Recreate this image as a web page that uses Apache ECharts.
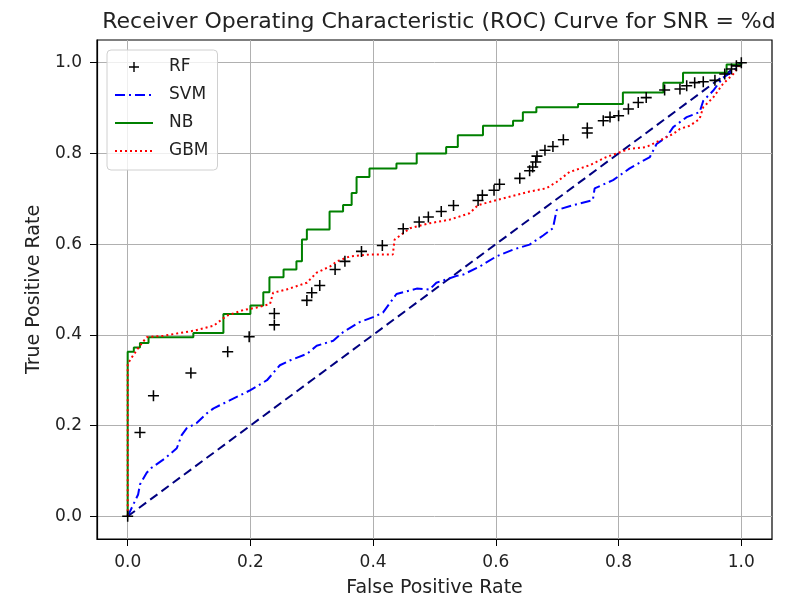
<!DOCTYPE html>
<html>
<head>
<meta charset="utf-8">
<script src="https://cdn.jsdelivr.net/npm/echarts@6/dist/echarts.min.js"></script>
<style>
  html, body { margin: 0; padding: 0; background: #fff; }
  #chart { width: 795px; height: 603px; }
</style>
</head>
<body>
<div id="chart"></div>
<script>
// tick labels
var ticks = [0, 0.2, 0.4, 0.6, 0.8, 1.0];

// RF (markers only)
var rfFpr = [0, 0.02, 0.042, 0.103, 0.163, 0.198, 0.239, 0.239, 0.292, 0.3, 0.313, 0.338, 0.354, 0.381, 0.415,
  0.449, 0.475, 0.49, 0.511, 0.531, 0.571, 0.578, 0.597, 0.606, 0.639, 0.655, 0.66, 0.665, 0.667, 0.68,
  0.693, 0.71, 0.749, 0.749, 0.775, 0.786, 0.8, 0.816, 0.832, 0.845, 0.875, 0.9, 0.911, 0.924, 0.938,
  0.957, 0.973, 0.984, 0.992, 1.0];
var rfTpr = [0, 0.185, 0.266, 0.316, 0.363, 0.396, 0.447, 0.422, 0.476, 0.493, 0.509, 0.544, 0.562, 0.584, 0.597,
  0.634, 0.649, 0.66, 0.672, 0.685, 0.696, 0.708, 0.719, 0.732, 0.745, 0.762, 0.77, 0.781, 0.794, 0.807,
  0.815, 0.83, 0.856, 0.845, 0.872, 0.88, 0.883, 0.898, 0.912, 0.923, 0.94, 0.942, 0.949, 0.956, 0.958,
  0.961, 0.975, 0.986, 0.993, 1.0];

// SVM
var svmFpr = [0, 0.017, 0.02, 0.031, 0.039, 0.061, 0.08, 0.088, 0.096, 0.112, 0.129, 0.14, 0.167, 0.2, 0.227,
  0.248, 0.265, 0.292, 0.308, 0.335, 0.351, 0.378, 0.4, 0.416, 0.438, 0.471, 0.492, 0.503, 0.519, 0.536,
  0.547, 0.574, 0.601, 0.628, 0.655, 0.677, 0.693, 0.699, 0.726, 0.758, 0.761, 0.791, 0.818, 0.851, 0.862,
  0.878, 0.889, 0.911, 0.932, 0.938, 0.954, 0.97, 0.987, 1.0];
var svmTpr = [0, 0.048, 0.07, 0.096, 0.107, 0.128, 0.15, 0.179, 0.194, 0.205, 0.227, 0.238, 0.256, 0.278, 0.3,
  0.333, 0.344, 0.358, 0.376, 0.387, 0.406, 0.428, 0.439, 0.449, 0.49, 0.502, 0.5, 0.515, 0.522, 0.53,
  0.533, 0.551, 0.573, 0.588, 0.599, 0.619, 0.635, 0.675, 0.686, 0.697, 0.723, 0.741, 0.767, 0.792, 0.821,
  0.836, 0.858, 0.88, 0.891, 0.916, 0.938, 0.967, 0.982, 1.0];

// NB
var nbFpr = [0, 0, 0.01, 0.02, 0.034, 0.107, 0.156, 0.2, 0.221, 0.231, 0.254, 0.275, 0.284, 0.292, 0.329,
  0.351, 0.365, 0.373, 0.394, 0.438, 0.471, 0.519, 0.538, 0.579, 0.628, 0.644, 0.666, 0.734, 0.807, 0.873,
  0.905, 0.976, 1.0];
var nbTpr = [0, 0.363, 0.372, 0.382, 0.395, 0.404, 0.446, 0.465, 0.494, 0.527, 0.544, 0.562, 0.61, 0.632, 0.672,
  0.686, 0.713, 0.748, 0.767, 0.778, 0.8, 0.814, 0.84, 0.861, 0.872, 0.891, 0.902, 0.909, 0.934, 0.956,
  0.978, 0.996, 1.0];

// GBM
var gbmFpr = [0, 0, 0.009, 0.02, 0.031, 0.058, 0.107, 0.14, 0.161, 0.189, 0.21, 0.232, 0.237, 0.259, 0.292,
  0.308, 0.33, 0.341, 0.362, 0.394, 0.432, 0.435, 0.46, 0.492, 0.525, 0.557, 0.571, 0.612, 0.655, 0.682,
  0.699, 0.72, 0.753, 0.78, 0.818, 0.845, 0.862, 0.878, 0.889, 0.9, 0.916, 0.932, 0.938, 0.954, 0.97,
  0.987, 1.0];
var gbmTpr = [0, 0.336, 0.355, 0.376, 0.395, 0.398, 0.409, 0.42, 0.442, 0.455, 0.46, 0.468, 0.493, 0.5, 0.515,
  0.537, 0.551, 0.562, 0.573, 0.577, 0.577, 0.61, 0.635, 0.646, 0.654, 0.668, 0.686, 0.701, 0.716, 0.723,
  0.737, 0.759, 0.774, 0.792, 0.81, 0.814, 0.825, 0.836, 0.843, 0.854, 0.861, 0.876, 0.902, 0.923, 0.953,
  0.975, 1.0];

// chance line
var diagX = [0, 1];
var diagY = [0, 1];

function pairs(xs, ys) {
  return xs.map(function (x, i) { return [x, ys[i]]; });
}

var fontFamily = 'DejaVu Sans';
var plus = 'path://M4.3,0H5.7V4.3H10V5.7H5.7V10H4.3V5.7H0V4.3H4.3Z';

var axisCommon = {
  type: 'value',
  min: -0.05,
  max: 1.05,
  axisLine: { show: true, onZero: false, lineStyle: { color: '#000', width: 1.2 } },
  axisTick: {
    show: true, inside: false, length: 7,
    lineStyle: { color: '#000', width: 1 },
    customValues: ticks
  },
  axisLabel: {
    customValues: ticks,
    fontFamily: fontFamily, fontSize: 17, color: '#222', margin: 15,
    formatter: function (v) { return v.toFixed(1); }
  },
  splitLine: { show: true, lineStyle: { color: '#b0b0b0', width: 1 } },
  nameLocation: 'middle',
  nameTextStyle: { fontFamily: fontFamily, fontSize: 19, color: '#222' }
};

var chart = echarts.init(document.getElementById('chart'), null, { renderer: 'canvas' });
var option = {
  backgroundColor: '#fff',
  animation: false,
  title: {
    text: 'Receiver Operating Characteristic (ROC) Curve for SNR = %d',
    left: 434, textAlign: 'center', top: 6,
    textStyle: { fontFamily: fontFamily, fontSize: 22, fontWeight: 'normal', color: '#222' }
  },
  grid: {
    left: 97, right: 23, top: 40, bottom: 63,
    show: true, borderColor: '#000', borderWidth: 1.2, backgroundColor: 'transparent'
  },
  legend: {
    data: [
      { name: 'RF', itemStyle: { opacity: 1 } },
      'SVM', 'NB', 'GBM'
    ],
    orient: 'vertical',
    left: 107, top: 50,
    itemWidth: 38, itemHeight: 10, itemGap: 10,
    padding: [8, 9, 10, 7],
    itemStyle: { opacity: 0 },
    backgroundColor: 'rgba(255,255,255,0.8)',
    borderColor: '#d0d0d0', borderWidth: 1, borderRadius: 4,
    textStyle: { fontFamily: fontFamily, fontSize: 17, lineHeight: 18, color: '#222', padding: [0, 0, 0, 11] }
  },
  xAxis: Object.assign({}, axisCommon, { name: 'False Positive Rate', nameGap: 40 }),
  yAxis: Object.assign({}, axisCommon, { name: 'True Positive Rate', nameGap: 53 }),
  series: [
    {
      name: 'chance',
      type: 'line',
      data: pairs(diagX, diagY),
      symbol: 'none',
      lineStyle: { color: '#000080', width: 2, type: [9, 5] },
      z: 2
    },
    {
      name: 'SVM',
      type: 'line',
      data: pairs(svmFpr, svmTpr),
      symbol: 'none',
      itemStyle: { color: '#0000ff' },
      lineStyle: { color: '#0000ff', width: 2, type: [10, 4, 2, 4] },
      z: 3
    },
    {
      name: 'NB',
      type: 'line',
      step: 'end',
      data: pairs(nbFpr, nbTpr),
      symbol: 'none',
      itemStyle: { color: '#008000' },
      lineStyle: { color: '#008000', width: 2 },
      z: 3
    },
    {
      name: 'GBM',
      type: 'line',
      data: pairs(gbmFpr, gbmTpr),
      symbol: 'none',
      itemStyle: { color: '#ff0000' },
      lineStyle: { color: '#ff0000', width: 2, type: [2, 3] },
      z: 3
    },
    {
      name: 'RF',
      type: 'scatter',
      data: pairs(rfFpr, rfTpr),
      symbol: plus,
      symbolSize: 11,
      itemStyle: { color: '#000', opacity: 1 },
      z: 4
    }
  ]
};
chart.setOption(option);
</script>
</body>
</html>
